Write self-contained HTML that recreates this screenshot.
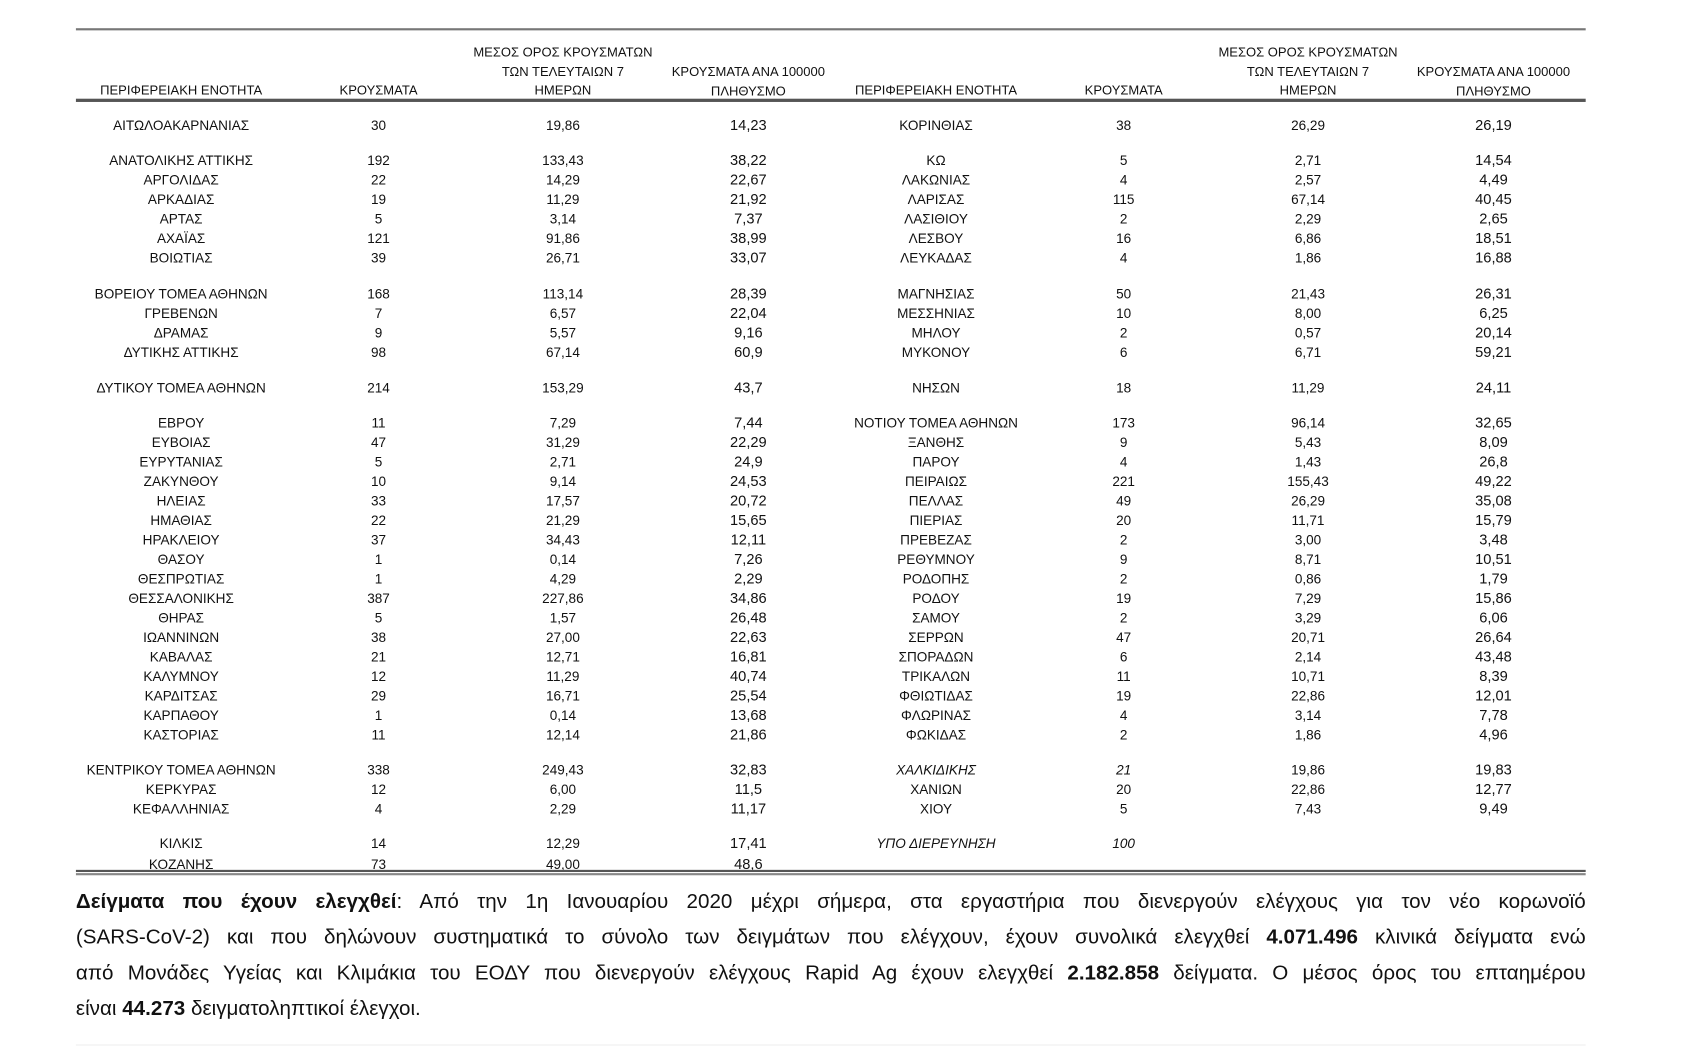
<!DOCTYPE html>
<html><head><meta charset="utf-8"><style>
html,body{margin:0;padding:0;background:#fff;width:1700px;height:1056px;overflow:hidden}
#w{position:absolute;left:0;top:0;width:1567px;height:974px;transform:scale(1.0846);transform-origin:0 0;font-family:"Liberation Sans","DejaVu Sans",sans-serif;color:#111}
.r{position:absolute;left:0;width:1545px;height:16px;line-height:16px;font-size:12.5px}
.r span{position:absolute;width:220px;text-align:center;top:0;white-space:nowrap}
.a{left:57px}.b{left:239px}.c{left:409px}.d{left:580px;font-size:13.5px}.e{left:753px}.f{left:926px}.g{left:1096px}.h{left:1267px;font-size:13.5px}
.i{font-style:italic}
.hd{position:absolute;font-size:12px;line-height:17.5px;text-align:center;width:220px}
.rule{position:absolute;left:70px;width:1392px}
.pl{position:absolute;left:70px;width:1392px;font-size:19px;line-height:33px;height:33px;text-align:justify;text-align-last:justify;white-space:nowrap;color:#111}
.pl.last{text-align-last:left}
</style></head><body><div id="w">
<div class="rule" style="top:26px;height:2px;background:#777"></div>
<div class="hd" style="left:57px;top:75px">ΠΕΡΙΦΕΡΕΙΑΚΗ ΕΝΟΤΗΤΑ</div>
<div class="hd" style="left:239px;top:75px">ΚΡΟΥΣΜΑΤΑ</div>
<div class="hd" style="left:409px;top:40px">ΜΕΣΟΣ ΟΡΟΣ ΚΡΟΥΣΜΑΤΩΝ<br>ΤΩΝ ΤΕΛΕΥΤΑΙΩΝ 7<br>ΗΜΕΡΩΝ</div>
<div class="hd" style="left:580px;top:58px">ΚΡΟΥΣΜΑΤΑ ΑΝΑ 100000<br>ΠΛΗΘΥΣΜΟ</div>
<div class="hd" style="left:753px;top:75px">ΠΕΡΙΦΕΡΕΙΑΚΗ ΕΝΟΤΗΤΑ</div>
<div class="hd" style="left:926px;top:75px">ΚΡΟΥΣΜΑΤΑ</div>
<div class="hd" style="left:1096px;top:40px">ΜΕΣΟΣ ΟΡΟΣ ΚΡΟΥΣΜΑΤΩΝ<br>ΤΩΝ ΤΕΛΕΥΤΑΙΩΝ 7<br>ΗΜΕΡΩΝ</div>
<div class="hd" style="left:1267px;top:58px">ΚΡΟΥΣΜΑΤΑ ΑΝΑ 100000<br>ΠΛΗΘΥΣΜΟ</div>
<div class="rule" style="top:91px;height:3px;background:#555"></div>

<div class="r" style="top:108px"><span class="a">ΑΙΤΩΛΟΑΚΑΡΝΑΝΙΑΣ</span><span class="b">30</span><span class="c">19,86</span><span class="d">14,23</span><span class="e">ΚΟΡΙΝΘΙΑΣ</span><span class="f">38</span><span class="g">26,29</span><span class="h">26,19</span></div>
<div class="r" style="top:140px"><span class="a">ΑΝΑΤΟΛΙΚΗΣ ΑΤΤΙΚΗΣ</span><span class="b">192</span><span class="c">133,43</span><span class="d">38,22</span><span class="e">ΚΩ</span><span class="f">5</span><span class="g">2,71</span><span class="h">14,54</span></div>
<div class="r" style="top:158px"><span class="a">ΑΡΓΟΛΙΔΑΣ</span><span class="b">22</span><span class="c">14,29</span><span class="d">22,67</span><span class="e">ΛΑΚΩΝΙΑΣ</span><span class="f">4</span><span class="g">2,57</span><span class="h">4,49</span></div>
<div class="r" style="top:176px"><span class="a">ΑΡΚΑΔΙΑΣ</span><span class="b">19</span><span class="c">11,29</span><span class="d">21,92</span><span class="e">ΛΑΡΙΣΑΣ</span><span class="f">115</span><span class="g">67,14</span><span class="h">40,45</span></div>
<div class="r" style="top:194px"><span class="a">ΑΡΤΑΣ</span><span class="b">5</span><span class="c">3,14</span><span class="d">7,37</span><span class="e">ΛΑΣΙΘΙΟΥ</span><span class="f">2</span><span class="g">2,29</span><span class="h">2,65</span></div>
<div class="r" style="top:212px"><span class="a">ΑΧΑΪΑΣ</span><span class="b">121</span><span class="c">91,86</span><span class="d">38,99</span><span class="e">ΛΕΣΒΟΥ</span><span class="f">16</span><span class="g">6,86</span><span class="h">18,51</span></div>
<div class="r" style="top:230px"><span class="a">ΒΟΙΩΤΙΑΣ</span><span class="b">39</span><span class="c">26,71</span><span class="d">33,07</span><span class="e">ΛΕΥΚΑΔΑΣ</span><span class="f">4</span><span class="g">1,86</span><span class="h">16,88</span></div>
<div class="r" style="top:263px"><span class="a">ΒΟΡΕΙΟΥ ΤΟΜΕΑ ΑΘΗΝΩΝ</span><span class="b">168</span><span class="c">113,14</span><span class="d">28,39</span><span class="e">ΜΑΓΝΗΣΙΑΣ</span><span class="f">50</span><span class="g">21,43</span><span class="h">26,31</span></div>
<div class="r" style="top:281px"><span class="a">ΓΡΕΒΕΝΩΝ</span><span class="b">7</span><span class="c">6,57</span><span class="d">22,04</span><span class="e">ΜΕΣΣΗΝΙΑΣ</span><span class="f">10</span><span class="g">8,00</span><span class="h">6,25</span></div>
<div class="r" style="top:299px"><span class="a">ΔΡΑΜΑΣ</span><span class="b">9</span><span class="c">5,57</span><span class="d">9,16</span><span class="e">ΜΗΛΟΥ</span><span class="f">2</span><span class="g">0,57</span><span class="h">20,14</span></div>
<div class="r" style="top:317px"><span class="a">ΔΥΤΙΚΗΣ ΑΤΤΙΚΗΣ</span><span class="b">98</span><span class="c">67,14</span><span class="d">60,9</span><span class="e">ΜΥΚΟΝΟΥ</span><span class="f">6</span><span class="g">6,71</span><span class="h">59,21</span></div>
<div class="r" style="top:350px"><span class="a">ΔΥΤΙΚΟΥ ΤΟΜΕΑ ΑΘΗΝΩΝ</span><span class="b">214</span><span class="c">153,29</span><span class="d">43,7</span><span class="e">ΝΗΣΩΝ</span><span class="f">18</span><span class="g">11,29</span><span class="h">24,11</span></div>
<div class="r" style="top:382px"><span class="a">ΕΒΡΟΥ</span><span class="b">11</span><span class="c">7,29</span><span class="d">7,44</span><span class="e">ΝΟΤΙΟΥ ΤΟΜΕΑ ΑΘΗΝΩΝ</span><span class="f">173</span><span class="g">96,14</span><span class="h">32,65</span></div>
<div class="r" style="top:400px"><span class="a">ΕΥΒΟΙΑΣ</span><span class="b">47</span><span class="c">31,29</span><span class="d">22,29</span><span class="e">ΞΑΝΘΗΣ</span><span class="f">9</span><span class="g">5,43</span><span class="h">8,09</span></div>
<div class="r" style="top:418px"><span class="a">ΕΥΡΥΤΑΝΙΑΣ</span><span class="b">5</span><span class="c">2,71</span><span class="d">24,9</span><span class="e">ΠΑΡΟΥ</span><span class="f">4</span><span class="g">1,43</span><span class="h">26,8</span></div>
<div class="r" style="top:436px"><span class="a">ΖΑΚΥΝΘΟΥ</span><span class="b">10</span><span class="c">9,14</span><span class="d">24,53</span><span class="e">ΠΕΙΡΑΙΩΣ</span><span class="f">221</span><span class="g">155,43</span><span class="h">49,22</span></div>
<div class="r" style="top:454px"><span class="a">ΗΛΕΙΑΣ</span><span class="b">33</span><span class="c">17,57</span><span class="d">20,72</span><span class="e">ΠΕΛΛΑΣ</span><span class="f">49</span><span class="g">26,29</span><span class="h">35,08</span></div>
<div class="r" style="top:472px"><span class="a">ΗΜΑΘΙΑΣ</span><span class="b">22</span><span class="c">21,29</span><span class="d">15,65</span><span class="e">ΠΙΕΡΙΑΣ</span><span class="f">20</span><span class="g">11,71</span><span class="h">15,79</span></div>
<div class="r" style="top:490px"><span class="a">ΗΡΑΚΛΕΙΟΥ</span><span class="b">37</span><span class="c">34,43</span><span class="d">12,11</span><span class="e">ΠΡΕΒΕΖΑΣ</span><span class="f">2</span><span class="g">3,00</span><span class="h">3,48</span></div>
<div class="r" style="top:508px"><span class="a">ΘΑΣΟΥ</span><span class="b">1</span><span class="c">0,14</span><span class="d">7,26</span><span class="e">ΡΕΘΥΜΝΟΥ</span><span class="f">9</span><span class="g">8,71</span><span class="h">10,51</span></div>
<div class="r" style="top:526px"><span class="a">ΘΕΣΠΡΩΤΙΑΣ</span><span class="b">1</span><span class="c">4,29</span><span class="d">2,29</span><span class="e">ΡΟΔΟΠΗΣ</span><span class="f">2</span><span class="g">0,86</span><span class="h">1,79</span></div>
<div class="r" style="top:544px"><span class="a">ΘΕΣΣΑΛΟΝΙΚΗΣ</span><span class="b">387</span><span class="c">227,86</span><span class="d">34,86</span><span class="e">ΡΟΔΟΥ</span><span class="f">19</span><span class="g">7,29</span><span class="h">15,86</span></div>
<div class="r" style="top:562px"><span class="a">ΘΗΡΑΣ</span><span class="b">5</span><span class="c">1,57</span><span class="d">26,48</span><span class="e">ΣΑΜΟΥ</span><span class="f">2</span><span class="g">3,29</span><span class="h">6,06</span></div>
<div class="r" style="top:580px"><span class="a">ΙΩΑΝΝΙΝΩΝ</span><span class="b">38</span><span class="c">27,00</span><span class="d">22,63</span><span class="e">ΣΕΡΡΩΝ</span><span class="f">47</span><span class="g">20,71</span><span class="h">26,64</span></div>
<div class="r" style="top:598px"><span class="a">ΚΑΒΑΛΑΣ</span><span class="b">21</span><span class="c">12,71</span><span class="d">16,81</span><span class="e">ΣΠΟΡΑΔΩΝ</span><span class="f">6</span><span class="g">2,14</span><span class="h">43,48</span></div>
<div class="r" style="top:616px"><span class="a">ΚΑΛΥΜΝΟΥ</span><span class="b">12</span><span class="c">11,29</span><span class="d">40,74</span><span class="e">ΤΡΙΚΑΛΩΝ</span><span class="f">11</span><span class="g">10,71</span><span class="h">8,39</span></div>
<div class="r" style="top:634px"><span class="a">ΚΑΡΔΙΤΣΑΣ</span><span class="b">29</span><span class="c">16,71</span><span class="d">25,54</span><span class="e">ΦΘΙΩΤΙΔΑΣ</span><span class="f">19</span><span class="g">22,86</span><span class="h">12,01</span></div>
<div class="r" style="top:652px"><span class="a">ΚΑΡΠΑΘΟΥ</span><span class="b">1</span><span class="c">0,14</span><span class="d">13,68</span><span class="e">ΦΛΩΡΙΝΑΣ</span><span class="f">4</span><span class="g">3,14</span><span class="h">7,78</span></div>
<div class="r" style="top:670px"><span class="a">ΚΑΣΤΟΡΙΑΣ</span><span class="b">11</span><span class="c">12,14</span><span class="d">21,86</span><span class="e">ΦΩΚΙΔΑΣ</span><span class="f">2</span><span class="g">1,86</span><span class="h">4,96</span></div>
<div class="r" style="top:702px"><span class="a">ΚΕΝΤΡΙΚΟΥ ΤΟΜΕΑ ΑΘΗΝΩΝ</span><span class="b">338</span><span class="c">249,43</span><span class="d">32,83</span><span class="e i">ΧΑΛΚΙΔΙΚΗΣ</span><span class="f i">21</span><span class="g">19,86</span><span class="h">19,83</span></div>
<div class="r" style="top:720px"><span class="a">ΚΕΡΚΥΡΑΣ</span><span class="b">12</span><span class="c">6,00</span><span class="d">11,5</span><span class="e">ΧΑΝΙΩΝ</span><span class="f">20</span><span class="g">22,86</span><span class="h">12,77</span></div>
<div class="r" style="top:738px"><span class="a">ΚΕΦΑΛΛΗΝΙΑΣ</span><span class="b">4</span><span class="c">2,29</span><span class="d">11,17</span><span class="e">ΧΙΟΥ</span><span class="f">5</span><span class="g">7,43</span><span class="h">9,49</span></div>
<div class="r" style="top:770px"><span class="a">ΚΙΛΚΙΣ</span><span class="b">14</span><span class="c">12,29</span><span class="d">17,41</span><span class="e i">ΥΠΟ ΔΙΕΡΕΥΝΗΣΗ</span><span class="f i">100</span></div>
<div class="r" style="top:789px"><span class="a">ΚΟΖΑΝΗΣ</span><span class="b">73</span><span class="c">49,00</span><span class="d">48,6</span></div>
<div class="rule" style="top:802px;height:2px;background:#555"></div>
<div class="rule" style="top:805px;height:2px;background:#888"></div>

<div class="pl" style="top:815px"><b>Δείγματα που έχουν ελεγχθεί</b>: Από την 1η Ιανουαρίου 2020 μέχρι σήμερα, στα εργαστήρια που διενεργούν ελέγχους για τον νέο κορωνοϊό</div>
<div class="pl" style="top:848px">(SARS-CoV-2) και που δηλώνουν συστηματικά το σύνολο των δειγμάτων που ελέγχουν, έχουν συνολικά ελεγχθεί <b>4.071.496</b> κλινικά δείγματα ενώ</div>
<div class="pl" style="top:881px">από Μονάδες Υγείας και Κλιμάκια του ΕΟΔΥ που διενεργούν ελέγχους Rapid Ag έχουν ελεγχθεί <b>2.182.858</b> δείγματα. Ο μέσος όρος του επταημέρου</div>
<div class="pl last" style="top:914px">είναι <b>44.273</b> δειγματοληπτικοί έλεγχοι.</div>
<div class="rule" style="top:963px;height:1px;background:#eee"></div>
</div></body></html>
